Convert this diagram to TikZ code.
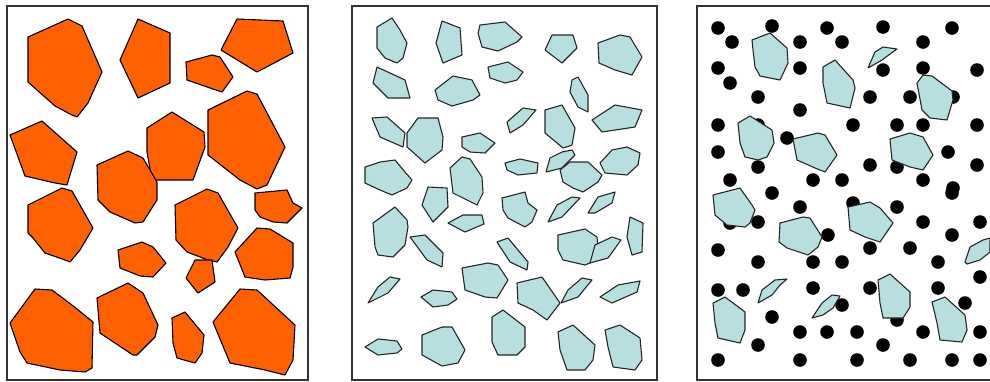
\documentclass[tikz,border=0pt]{standalone}
\usepackage{tikz}

\definecolor{oreorange}{HTML}{FF6000}
\definecolor{grainblue}{HTML}{B8DFDF}
\definecolor{framegray}{HTML}{333333}

\begin{document}
\begin{tikzpicture}[
  x=1pt, y=-1pt,
  panel/.style={draw=framegray, line width=1.4pt},
  ore/.style={fill=oreorange, draw=black, line width=1.1pt, line join=round},
  grain/.style={fill=grainblue, draw=black!85, line width=1.1pt, line join=round},
  pore/.style={fill=black}
]
\useasboundingbox (0,0) rectangle (990,381);

% panel frames
\draw[panel] (7,6) rectangle (308,380);
\draw[panel] (352,6) rectangle (657,380);
\draw[panel] (990,6) -- (697,6) -- (697,380) -- (990,380);

% left panel: large grains
\draw[ore] (28,37) -- (68,19) -- (82,26) -- (102,72) -- (88,103) -- (77,117) -- (72,115) -- (55,106) -- (28,82) -- cycle;
\draw[ore] (138,19) -- (170,33) -- (170,83) -- (138,98) -- (120,60) -- cycle;
\draw[ore] (186,62) -- (212,55) -- (220,57) -- (233,77) -- (222,92) -- (213,89) -- (187,80) -- cycle;
\draw[ore] (237,19) -- (283,21) -- (293,53) -- (257,72) -- (221,50) -- cycle;
\draw[ore] (10,135) -- (42,121) -- (77,152) -- (67,185) -- (55,183) -- (25,176) -- cycle;
\draw[ore] (147,128) -- (172,112) -- (204,132) -- (205,147) -- (193,180) -- (152,180) -- (147,152) -- cycle;
\draw[ore] (208,110) -- (247,91) -- (257,94) -- (285,147) -- (267,185) -- (257,189) -- (240,180) -- (208,155) -- cycle;
\draw[ore] (97,165) -- (128,151) -- (143,158) -- (157,182) -- (157,200) -- (143,222) -- (135,223) -- (110,212) -- (98,200) -- cycle;
\draw[ore] (28,205) -- (62,188) -- (72,191) -- (93,228) -- (80,250) -- (70,262) -- (65,260) -- (45,253) -- (33,238) -- (28,233) -- cycle;
\draw[ore] (175,205) -- (207,189) -- (218,193) -- (238,228) -- (228,247) -- (217,262) -- (208,260) -- (187,252) -- (176,240) -- cycle;
\draw[ore] (255,193) -- (287,190) -- (293,203) -- (302,208) -- (287,223) -- (273,222) -- (260,217) -- (255,210) -- cycle;
\draw[ore] (118,250) -- (142,242) -- (153,247) -- (166,263) -- (153,277) -- (140,276) -- (120,268) -- cycle;
\draw[ore] (195,260) -- (212,260) -- (215,282) -- (198,293) -- (186,278) -- cycle;
\draw[ore] (235,252) -- (257,228) -- (270,229) -- (293,243) -- (293,267) -- (290,278) -- (265,280) -- (245,277) -- cycle;
\draw[ore] (10,323) -- (35,289) -- (52,290) -- (72,305) -- (93,322) -- (92,368) -- (85,372) -- (60,370) -- (27,363) -- (20,352) -- cycle;
\draw[ore] (97,298) -- (128,283) -- (143,293) -- (158,325) -- (155,337) -- (137,355) -- (133,355) -- (100,333) -- cycle;
\draw[ore] (172,318) -- (185,312) -- (204,335) -- (202,353) -- (195,363) -- (177,358) -- (173,343) -- cycle;
\draw[ore] (213,322) -- (240,289) -- (257,290) -- (295,325) -- (293,360) -- (285,375) -- (265,370) -- (230,363) -- cycle;

% middle panel: small grains
\draw[grain] (377,27) -- (392,18) -- (400,30) -- (407,43) -- (403,58) -- (397,63) -- (385,58) -- (377,48) -- cycle;
\draw[grain] (442,21) -- (460,28) -- (462,55) -- (443,63) -- (436,43) -- cycle;
\draw[grain] (480,25) -- (505,22) -- (522,37) -- (517,42) -- (498,51) -- (482,47) -- (478,33) -- cycle;
\draw[grain] (545,50) -- (552,35) -- (573,35) -- (577,48) -- (562,63) -- cycle;
\draw[grain] (598,43) -- (620,35) -- (630,37) -- (642,57) -- (632,75) -- (615,70) -- (599,63) -- cycle;
\draw[grain] (377,67) -- (405,80) -- (410,98) -- (388,98) -- (373,83) -- cycle;
\draw[grain] (488,67) -- (508,62) -- (523,72) -- (517,80) -- (505,83) -- (490,78) -- cycle;
\draw[grain] (435,90) -- (453,76) -- (472,80) -- (480,95) -- (473,100) -- (452,106) -- (438,100) -- cycle;
\draw[grain] (572,80) -- (578,77) -- (588,95) -- (588,112) -- (578,107) -- (570,92) -- cycle;
\draw[grain] (372,118) -- (387,117) -- (405,133) -- (403,147) -- (380,137) -- cycle;
\draw[grain] (407,133) -- (418,118) -- (438,118) -- (443,137) -- (442,150) -- (425,163) -- (407,147) -- cycle;
\draw[grain] (462,137) -- (480,133) -- (495,143) -- (485,153) -- (470,152) -- (462,147) -- cycle;
\draw[grain] (507,122) -- (523,108) -- (536,110) -- (523,125) -- (510,133) -- cycle;
\draw[grain] (545,110) -- (562,105) -- (575,128) -- (572,145) -- (563,148) -- (545,133) -- cycle;
\draw[grain] (592,120) -- (615,105) -- (642,110) -- (635,127) -- (602,132) -- cycle;
\draw[grain] (546,172) -- (550,158) -- (562,152) -- (572,150) -- (575,155) -- (567,163) -- (562,168) -- cycle;
\draw[grain] (560,170) -- (570,162) -- (588,162) -- (602,175) -- (598,182) -- (583,192) -- (573,188) -- (563,182) -- cycle;
\draw[grain] (505,163) -- (520,159) -- (538,163) -- (537,173) -- (518,175) -- (507,170) -- cycle;
\draw[grain] (600,163) -- (612,150) -- (627,147) -- (640,153) -- (638,165) -- (627,175) -- (605,173) -- cycle;
\draw[grain] (365,167) -- (380,162) -- (395,160) -- (405,172) -- (412,180) -- (407,188) -- (392,195) -- (380,190) -- (365,183) -- cycle;
\draw[grain] (450,168) -- (462,157) -- (470,159) -- (482,177) -- (483,193) -- (477,205) -- (467,200) -- (453,193) -- cycle;
\draw[grain] (422,205) -- (428,187) -- (447,188) -- (448,207) -- (433,222) -- cycle;
\draw[grain] (448,223) -- (463,215) -- (482,215) -- (484,224) -- (465,232) -- cycle;
\draw[grain] (502,198) -- (525,192) -- (528,203) -- (537,210) -- (532,222) -- (525,227) -- (508,218) -- (503,210) -- cycle;
\draw[grain] (548,222) -- (557,205) -- (572,197) -- (580,198) -- (562,217) -- cycle;
\draw[grain] (588,213) -- (598,197) -- (615,192) -- (612,203) -- (595,213) -- cycle;
\draw[grain] (630,217) -- (643,223) -- (642,252) -- (632,255) -- (627,237) -- cycle;
\draw[grain] (373,223) -- (395,207) -- (407,220) -- (408,227) -- (405,245) -- (393,257) -- (378,255) -- (375,247) -- cycle;
\draw[grain] (410,237) -- (425,235) -- (443,253) -- (442,267) -- (427,260) -- cycle;
\draw[grain] (497,242) -- (508,238) -- (528,262) -- (527,270) -- (510,262) -- cycle;
\draw[grain] (558,235) -- (585,229) -- (597,237) -- (598,247) -- (592,262) -- (585,265) -- (563,260) -- (558,250) -- cycle;
\draw[grain] (590,263) -- (595,245) -- (612,237) -- (621,240) -- (608,258) -- cycle;
\draw[grain] (368,303) -- (378,287) -- (390,277) -- (400,279) -- (388,293) -- cycle;
\draw[grain] (421,297) -- (433,290) -- (452,292) -- (457,299) -- (448,305) -- (433,307) -- cycle;
\draw[grain] (462,268) -- (488,263) -- (498,265) -- (508,280) -- (497,298) -- (485,297) -- (465,290) -- cycle;
\draw[grain] (517,283) -- (542,277) -- (560,303) -- (547,320) -- (533,310) -- (518,303) -- cycle;
\draw[grain] (561,303) -- (568,290) -- (582,278) -- (592,280) -- (578,297) -- cycle;
\draw[grain] (600,297) -- (618,285) -- (640,281) -- (637,292) -- (612,303) -- cycle;
\draw[grain] (492,317) -- (503,310) -- (525,327) -- (525,347) -- (517,355) -- (498,355) -- (492,342) -- cycle;
\draw[grain] (422,335) -- (442,327) -- (452,327) -- (465,350) -- (458,363) -- (442,366) -- (422,355) -- cycle;
\draw[grain] (365,347) -- (378,339) -- (397,341) -- (402,349) -- (397,353) -- (378,355) -- cycle;
\draw[grain] (558,332) -- (573,325) -- (595,345) -- (593,360) -- (585,370) -- (567,370) -- (560,350) -- cycle;
\draw[grain] (605,330) -- (620,325) -- (640,338) -- (642,360) -- (635,370) -- (613,367) -- (608,347) -- cycle;

% right panel: pores
\foreach \px/\py in {718/28, 772/26, 827/28, 883/27, 952/28,
    732/42, 800/42, 842/42, 923/42,
    718/68, 800/68, 883/70, 923/68, 977/70, 730/83,
    758/97, 870/97, 910/97, 953/97, 800/110,
    718/125, 758/125, 853/125, 897/125, 923/125, 977/125,
    787/138, 718/152, 948/152,
    758/167, 870/165, 897/167, 977/165,
    730/180, 813/180, 842/180, 923/180, 953/188,
    772/193, 952/193, 800/207, 897/207, 853/203,
    758/222, 730/223, 923/222, 980/222, 828/235, 952/235,
    718/250, 870/248, 910/248,
    758/262, 813/262, 842/262, 938/262, 980/277,
    718/290, 743/290, 813/288, 870/288, 938/288,
    842/305, 965/303, 772/317, 897/320,
    800/332, 827/332, 857/332, 923/332, 980/332,
    758/345, 883/345,
    718/360, 800/360, 857/360, 910/360, 952/360, 980/360}
  \fill[pore] (\px,\py) circle (6.8);

% right panel: grains
\draw[grain] (752,40) -- (770,33) -- (787,48) -- (788,63) -- (780,80) -- (760,76) -- (755,67) -- (753,50) -- cycle;
\draw[grain] (868,68) -- (875,52) -- (883,47) -- (897,49) -- (882,60) -- cycle;
\draw[grain] (823,67) -- (835,60) -- (853,80) -- (855,88) -- (850,108) -- (827,103) -- (823,83) -- cycle;
\draw[grain] (917,83) -- (923,75) -- (932,76) -- (952,91) -- (953,100) -- (947,120) -- (930,118) -- (922,110) -- cycle;
\draw[grain] (738,123) -- (750,116) -- (772,130) -- (774,143) -- (767,157) -- (758,160) -- (745,157) -- (740,143) -- cycle;
\draw[grain] (793,139) -- (818,133) -- (825,135) -- (837,155) -- (825,172) -- (815,168) -- (797,160) -- cycle;
\draw[grain] (890,139) -- (910,133) -- (923,137) -- (933,155) -- (923,170) -- (910,167) -- (892,160) -- cycle;
\draw[grain] (713,195) -- (740,188) -- (752,205) -- (755,210) -- (750,223) -- (745,227) -- (727,225) -- (715,215) -- cycle;
\draw[grain] (780,223) -- (803,217) -- (810,218) -- (822,237) -- (818,247) -- (808,255) -- (787,248) -- (779,242) -- cycle;
\draw[grain] (848,207) -- (870,202) -- (880,208) -- (893,223) -- (880,242) -- (865,237) -- (850,230) -- cycle;
\draw[grain] (965,262) -- (970,247) -- (983,240) -- (990,238) -- (990,252) -- (980,260) -- (967,264) -- cycle;
\draw[grain] (758,303) -- (762,290) -- (775,280) -- (787,279) -- (780,285) -- (772,295) -- cycle;
\draw[grain] (812,318) -- (822,303) -- (832,295) -- (840,296) -- (833,308) -- (823,315) -- cycle;
\draw[grain] (713,303) -- (725,297) -- (745,312) -- (745,330) -- (740,343) -- (718,338) -- (715,323) -- cycle;
\draw[grain] (878,280) -- (890,274) -- (910,292) -- (910,307) -- (903,318) -- (883,318) -- (880,303) -- cycle;
\draw[grain] (932,302) -- (945,297) -- (965,315) -- (967,330) -- (962,342) -- (940,340) -- (937,323) -- cycle;
\end{tikzpicture}
\end{document}
